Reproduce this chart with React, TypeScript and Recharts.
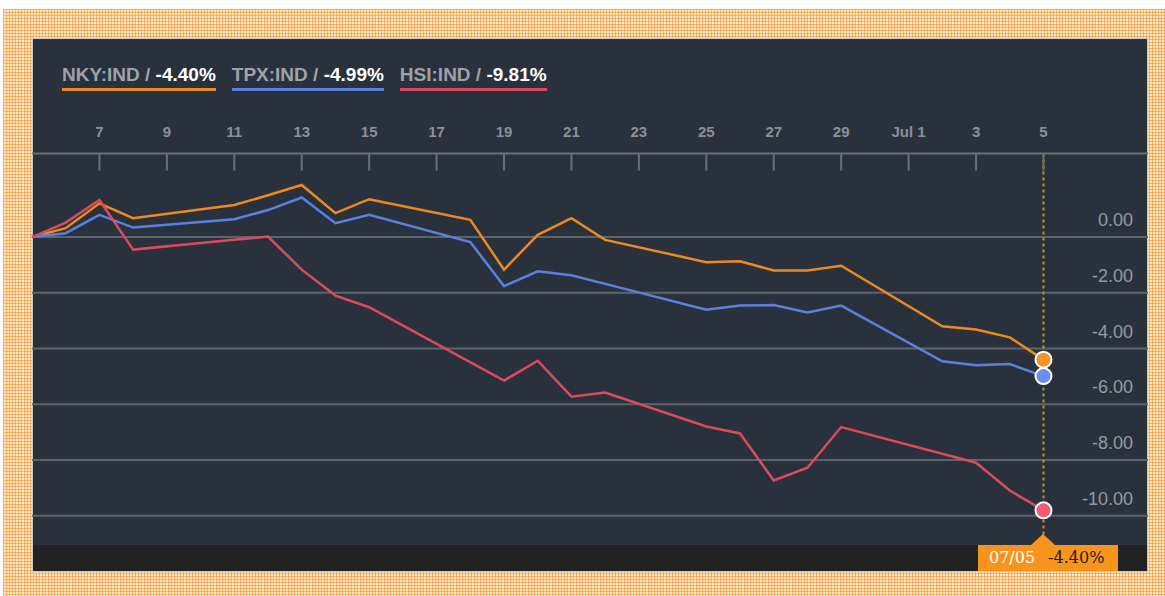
import { LineChart, Line, XAxis, YAxis, CartesianGrid, ReferenceLine } from 'recharts'

// day offsets counted from Jun 5 2018
const tradingDays = [0, 1, 2, 3, 6, 7, 8, 9, 10, 13, 14, 15, 16, 17, 20, 21, 22, 23, 24, 27, 28, 29, 30]
const nkyValues = [0, 0.32, 1.21, 0.68, 1.15, 1.5, 1.87, 0.86, 1.36, 0.62, -1.17, 0.08, 0.68, -0.1, -0.9, -0.87, -1.2, -1.2, -1.03, -3.2, -3.32, -3.6, -4.4]
const tpxValues = [0, 0.14, 0.8, 0.34, 0.64, 0.97, 1.42, 0.5, 0.8, -0.18, -1.76, -1.23, -1.37, -1.68, -2.61, -2.46, -2.44, -2.71, -2.46, -4.46, -4.6, -4.56, -4.99]
// HK market closed Jun 18 and Jul 2
const hsiDays = [0, 1, 2, 3, 6, 7, 8, 9, 10, 14, 15, 16, 17, 20, 21, 22, 23, 24, 28, 29, 30]
const hsiValues = [0, 0.52, 1.33, -0.45, -0.1, 0.02, -1.17, -2.1, -2.52, -5.15, -4.44, -5.73, -5.58, -6.8, -7.05, -8.74, -8.28, -6.82, -8.1, -9.1, -9.81]

const xTicks = [2, 4, 6, 8, 10, 12, 14, 16, 18, 20, 22, 24, 26, 28, 30]
const yTicks = [-10, -8, -6, -4, -2, 0]

const seriesKeys = ['nky', 'tpx', 'hsi']
const seriesNames = ['NKY:IND', 'TPX:IND', 'HSI:IND']
const lineColors = ['#ec8a1f', '#5b80e0', '#dd4a60']
const dotColors = ['#f7931e', '#6b8ef5', '#f35b70']

const startDate = new Date(2018, 5, 5)

const rows = tradingDays.map((day, i) => {
  const h = hsiDays.indexOf(day)
  return { day, nky: nkyValues[i], tpx: tpxValues[i], hsi: h >= 0 ? hsiValues[h] : null }
})
const lastRow = rows[rows.length - 1]

const toDate = (d: number) => new Date(startDate.getFullYear(), startDate.getMonth(), startDate.getDate() + d)
const fmtTick = (d: number) => {
  const dt = toDate(d)
  return dt.getDate() === 1 ? 'Jul 1' : String(dt.getDate())
}
const pad = (n: number) => (n < 10 ? '0' + n : String(n))
const lastDate = toDate(lastRow.day)
const lastLabel = `${pad(lastDate.getMonth() + 1)}/${pad(lastDate.getDate())}`
const fmtPct = (v: number) => v.toFixed(2) + '%'

const sans = '"Liberation Sans", Arial, sans-serif'

function XTick({ x, y, payload }: any) {
  return (
    <g>
      <line x1={x} x2={x} y1={y} y2={y + 17} stroke="#6b7077" strokeWidth={2} />
      <text x={x} y={y - 17} textAnchor="middle" fill="#8b9097" fontSize={15} fontWeight="bold" fontFamily={sans}>
        {fmtTick(payload.value)}
      </text>
    </g>
  )
}

function YTick({ x, y, payload }: any) {
  return (
    <text x={x} y={y - 11} textAnchor="end" fill="#959aa0" fontSize={18} fontFamily={sans}>
      {payload.value.toFixed(2)}
    </text>
  )
}

const endDot = (fill: string) => (props: any) => {
  const { cx, cy, index } = props
  if (index !== rows.length - 1 || cx == null || cy == null) return <g key={`d-${index}`} />
  return <circle key={`d-${index}`} cx={cx} cy={cy} r={8} fill={fill} stroke="#ffffff" strokeWidth={2} />
}

export default function App() {
  return (
    <div style={{ position: 'absolute', left: 0, top: 0, width: 1165, height: 596, background: '#fff', overflow: 'hidden' }}>
      <div
        style={{
          position: 'absolute', left: 3, top: 9, right: 0, bottom: 0,
          backgroundColor: '#fde8cc',
          backgroundImage:
            'linear-gradient(90deg, rgba(246,148,38,0.6) 1px, transparent 1px), linear-gradient(rgba(246,148,38,0.6) 1px, transparent 1px)',
          backgroundSize: '3px 3px',
        }}
      />
      <div style={{ position: 'absolute', left: 32, top: 38, width: 1116, height: 534, boxSizing: 'border-box', background: '#29323c', border: '1px solid #c6c8ca' }} />
      <div style={{ position: 'absolute', left: 33, top: 545, width: 1114, height: 26, background: '#222222' }} />

      <div style={{ position: 'absolute', left: 0, top: 0 }}>
        <LineChart width={1165} height={596} data={rows} margin={{ top: 123.5, right: 17, bottom: 52.5, left: 32 }}>
          <CartesianGrid vertical={false} horizontalValues={yTicks} stroke="#5e646b" strokeWidth={2} />
          <XAxis
            dataKey="day"
            type="number"
            orientation="top"
            domain={[0, 33.1]}
            ticks={xTicks}
            interval={0}
            height={30}
            tickSize={0}
            tickMargin={0}
            tickLine={false}
            axisLine={{ stroke: '#6b7077', strokeWidth: 2 }}
            tick={<XTick />}
          />
          <YAxis
            type="number"
            orientation="right"
            mirror
            domain={[-11, 3]}
            ticks={yTicks}
            interval={0}
            width={60}
            tickSize={0}
            tickMargin={15}
            tickLine={false}
            axisLine={false}
            tick={<YTick />}
          />
          <ReferenceLine x={lastRow.day} stroke="#c4921f" strokeWidth={2} strokeDasharray="3 3" />
          {seriesKeys.map((k, i) => (
            <Line
              key={k}
              dataKey={k}
              type="linear"
              stroke={lineColors[i]}
              strokeWidth={2.5}
              connectNulls
              dot={endDot(dotColors[i])}
              activeDot={false}
              isAnimationActive={false}
            />
          ))}
        </LineChart>
      </div>

      <div style={{ position: 'absolute', left: 62, top: 65, display: 'flex', gap: 16, fontFamily: sans, fontWeight: 'bold', fontSize: 19, lineHeight: '19px' }}>
        {seriesKeys.map((k, i) => (
          <div key={k} style={{ paddingBottom: 4, borderBottom: `3px solid ${lineColors[i]}`, whiteSpace: 'nowrap' }}>
            <span style={{ color: '#9ea3a8' }}>{seriesNames[i]} / </span>
            <span style={{ color: '#ffffff' }}>{fmtPct((lastRow as any)[k])}</span>
          </div>
        ))}
      </div>

      <div style={{ position: 'absolute', left: 1031, top: 534, width: 0, height: 0, borderLeft: '12px solid transparent', borderRight: '12px solid transparent', borderBottom: '11px solid #f7941d' }} />
      <div
        style={{
          position: 'absolute', left: 978, top: 545, width: 140, height: 26, background: '#f7941d',
          fontFamily: '"DejaVu Serif", serif', fontSize: 16, lineHeight: '26px', paddingLeft: 11, boxSizing: 'border-box', whiteSpace: 'nowrap',
        }}
      >
        <span style={{ color: '#ffffff' }}>{lastLabel}</span>
        <span style={{ color: '#1e1e1e', marginLeft: 13 }}>{fmtPct(lastRow.nky)}</span>
      </div>
    </div>
  )
}
